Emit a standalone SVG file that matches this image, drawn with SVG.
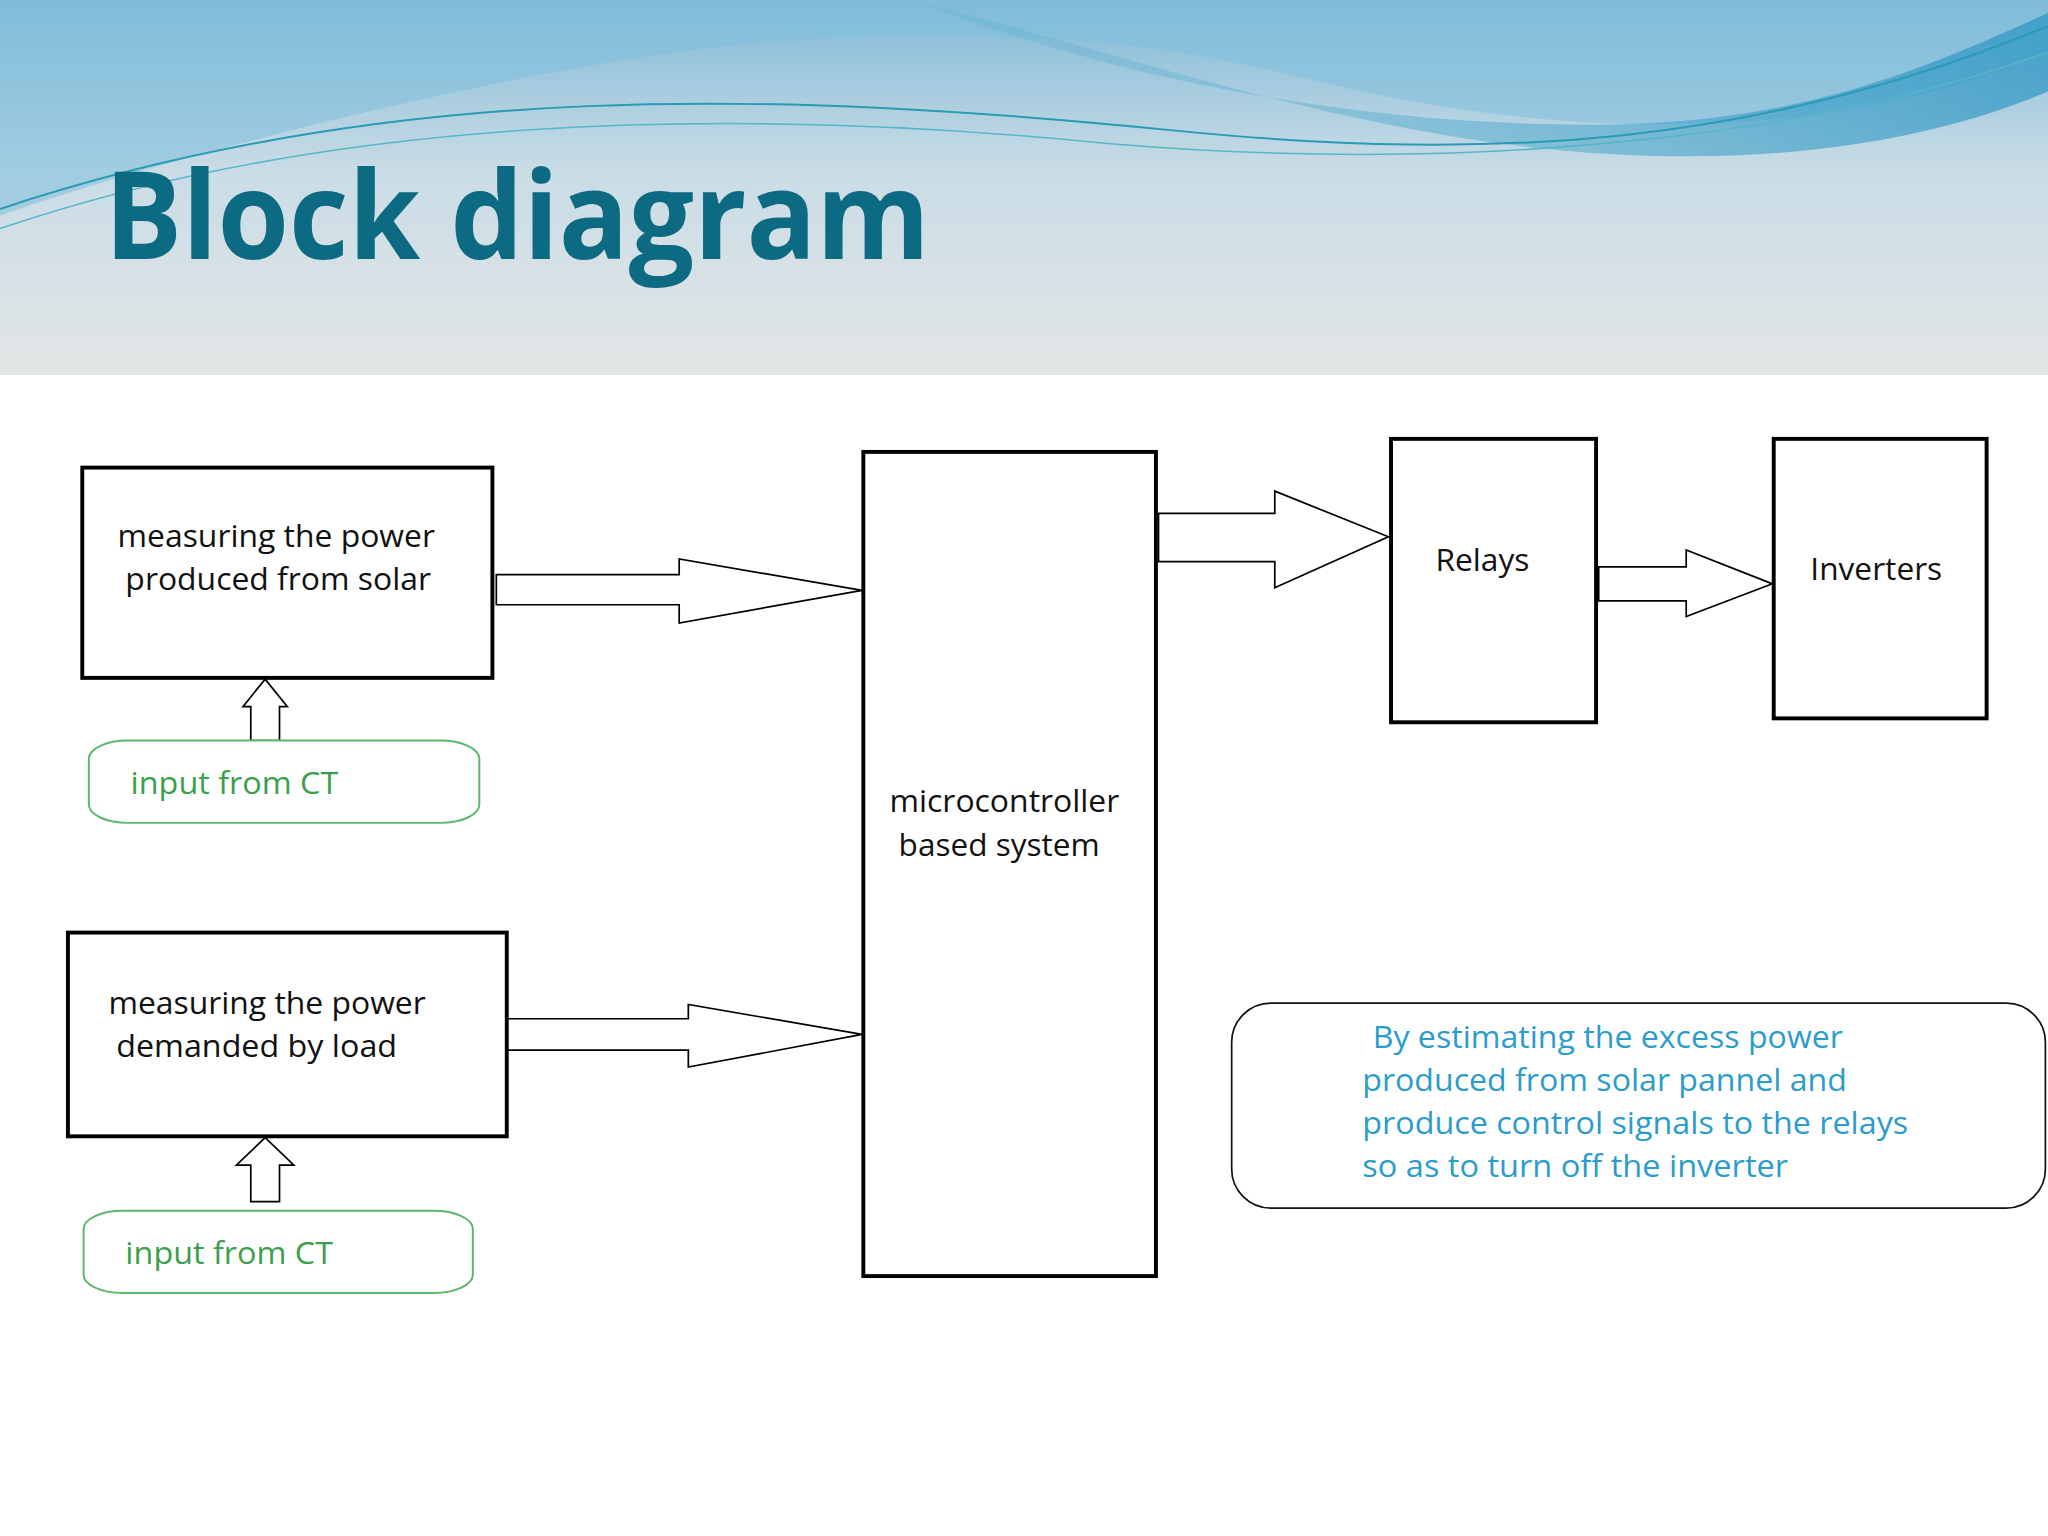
<svg xmlns="http://www.w3.org/2000/svg" width="2048" height="1536" viewBox="0 0 2048 1536">
<defs>
<linearGradient id="sky" x1="0" y1="0" x2="0" y2="1">
<stop offset="0" stop-color="#7fb9d6"/><stop offset="0.45" stop-color="#c9dce6"/><stop offset="1" stop-color="#e3e6e6"/>
</linearGradient>
<linearGradient id="wave" x1="0" y1="0" x2="1" y2="0">
<stop offset="0" stop-color="#3aa7c9" stop-opacity="0.2"/><stop offset="1" stop-color="#1e8fc0" stop-opacity="0.9"/>
</linearGradient>
<style>
.box{fill:#fff;stroke:#000;stroke-width:3}
.arr{fill:#fff;stroke:#000;stroke-width:1.3}
text{font-family:"Open Sans","Lato",sans-serif;font-size:24px}
.t{fill:#111}
.g{fill:#3aa04c}
.ct{fill:#fff;stroke:#5cb86a;stroke-width:1.5}
.n{fill:#2b9ccc}
</style>
</defs>
<rect width="2048" height="1536" fill="#fff"/>
<g transform="scale(1.30612)">
<g id="header">
<rect x="0" y="0" width="1568" height="287" fill="url(#sky)"/>
<path d="M0,0 H1568 V40 C1400,110 1200,110 1000,60 C800,10 600,20 400,60 C250,90 100,130 0,165 Z" fill="#7fbfdc" opacity="0.55"/>
<path d="M700,0 C850,60 1050,100 1250,95 C1400,90 1500,40 1568,10 V70 C1450,120 1300,130 1150,110 C1000,90 850,40 700,0 Z" fill="url(#wave)" opacity="0.7"/>
<path d="M0,160 C300,60 600,70 900,100 C1150,125 1350,110 1568,20" fill="none" stroke="#2a9ab5" stroke-width="1.5"/>
<path d="M0,175 C250,90 550,80 850,110 C1150,135 1400,100 1568,40" fill="none" stroke="#57b5c9" stroke-width="1.2"/>
<text x="80" y="198" font-weight="bold" style="font-size:94px" fill="#0d6a83" textLength="632" lengthAdjust="spacingAndGlyphs">Block diagram</text>
</g>
<g id="connectors">
<path class="arr" d="M380,440 H520 V428 L660,452 L520,477 V463 H380 Z"/>
<path class="arr" d="M388,780 H527 V769 L660,792 L527,817 V804 H388 Z"/>
<path class="arr" d="M887,393 H976 V376 L1063,411 L976,450 V430 H887 Z"/>
<path class="arr" d="M1224,434 H1291 V421 L1357,447 L1291,472 V460 H1224 Z"/>
<path class="arr" d="M192,567 V541 H186 L203,520 L220,541 H214 V567 Z"/>
<path class="arr" d="M192,920 V892 H181 L203,871 L225,892 H214 V920 Z"/>
</g>
<g id="solar"><rect class="box" x="63" y="358" width="314" height="161"/>
<text class="t" x="90" y="419" textLength="243" lengthAdjust="spacingAndGlyphs">measuring the power</text>
<text class="t" x="96" y="452" textLength="234" lengthAdjust="spacingAndGlyphs">produced from solar</text></g>
<g id="load"><rect class="box" x="52" y="714" width="336" height="156"/>
<text class="t" x="83" y="776" textLength="243" lengthAdjust="spacingAndGlyphs">measuring the power</text>
<text class="t" x="89" y="809" textLength="215" lengthAdjust="spacingAndGlyphs">demanded by load</text></g>
<g id="ct1"><rect class="ct" x="68" y="567" width="299" height="63" rx="30" ry="14"/>
<text class="g" x="100" y="608" textLength="159" lengthAdjust="spacingAndGlyphs">input from CT</text></g>
<g id="ct2"><rect class="ct" x="64" y="927" width="298" height="63" rx="30" ry="14"/>
<text class="g" x="96" y="968" textLength="159" lengthAdjust="spacingAndGlyphs">input from CT</text></g>
<g id="micro"><rect class="box" x="661" y="346" width="224" height="631"/>
<text class="t" x="681" y="622" textLength="176" lengthAdjust="spacingAndGlyphs">microcontroller</text>
<text class="t" x="688" y="655" textLength="154" lengthAdjust="spacingAndGlyphs">based system</text></g>
<g id="relays"><rect class="box" x="1065" y="336" width="157" height="217"/>
<text class="t" x="1099" y="437" textLength="72" lengthAdjust="spacingAndGlyphs">Relays</text></g>
<g id="inverters"><rect class="box" x="1358" y="336" width="163" height="214"/>
<text class="t" x="1386" y="444" textLength="101" lengthAdjust="spacingAndGlyphs">Inverters</text></g>
<g id="note"><rect x="943" y="768" width="623" height="157" rx="30" fill="#fff" stroke="#111" stroke-width="1.3"/>
<text class="n" x="1051" y="802" textLength="360" lengthAdjust="spacingAndGlyphs">By estimating the excess power</text>
<text class="n" x="1043" y="835" textLength="371" lengthAdjust="spacingAndGlyphs">produced from solar pannel and</text>
<text class="n" x="1043" y="868" textLength="418" lengthAdjust="spacingAndGlyphs">produce control signals to the relays</text>
<text class="n" x="1043" y="901" textLength="326" lengthAdjust="spacingAndGlyphs">so as to turn off the inverter</text></g>
</g>
</svg>
